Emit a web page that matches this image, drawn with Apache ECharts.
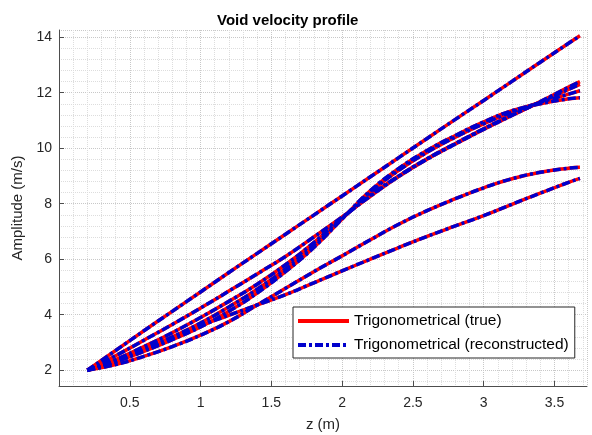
<!DOCTYPE html>
<html>
<head>
<meta charset="utf-8">
<script src="https://cdn.jsdelivr.net/npm/echarts@6/dist/echarts.min.js"></script>
<style>
  html, body { margin: 0; padding: 0; background: #fff; }
  #chart { width: 592px; height: 435px; }
</style>
</head>
<body>
<div id="chart"></div>
<script>
// z positions (m)
const zValues = [0.2, 0.4, 0.6, 0.8, 1.0, 1.2, 1.4, 1.6, 1.8, 2.0, 2.2, 2.4, 2.6, 2.8, 3.0, 3.2, 3.4, 3.6, 3.68];

// amplitude profiles (m/s)
const profileA = [2.00, 2.71, 3.42, 4.12, 4.82, 5.52, 6.21, 6.90, 7.59, 8.28, 8.97, 9.66, 10.35, 11.04, 11.72, 12.41, 13.10, 13.78, 14.05];
const profileB = [2.00, 2.52, 3.08, 3.65, 4.24, 4.85, 5.47, 6.10, 6.80, 7.52, 8.27, 8.98, 9.60, 10.15, 10.68, 11.18, 11.68, 12.20, 12.40];
const profileC = [2.00, 2.38, 2.85, 3.35, 3.90, 4.48, 5.10, 5.80, 6.60, 7.48, 8.30, 9.00, 9.62, 10.17, 10.70, 11.20, 11.66, 12.12, 12.30];
const profileD = [2.00, 2.33, 2.75, 3.20, 3.70, 4.28, 4.92, 5.65, 6.50, 7.46, 8.42, 9.20, 9.85, 10.40, 10.88, 11.30, 11.65, 11.95, 12.07];
const profileE = [2.00, 2.30, 2.68, 3.10, 3.56, 4.12, 4.78, 5.55, 6.42, 7.45, 8.47, 9.27, 9.92, 10.46, 10.95, 11.35, 11.60, 11.78, 11.82];
const profileF = [2.00, 2.20, 2.50, 2.85, 3.26, 3.75, 4.35, 4.95, 5.55, 6.12, 6.70, 7.26, 7.75, 8.18, 8.57, 8.90, 9.13, 9.28, 9.31];
const profileG = [2.00, 2.32, 2.72, 3.15, 3.60, 3.98, 4.35, 4.72, 5.15, 5.58, 6.00, 6.42, 6.82, 7.20, 7.57, 7.98, 8.38, 8.77, 8.91];

// the reconstruction sits on top of the true profile
const trueProfiles = [profileA, profileB, profileC, profileD, profileE, profileF, profileG];
const reconstructedProfiles = [profileA, profileB, profileC, profileD, profileE, profileF, profileG];

const trueName = 'Trigonometrical (true)';
const recName = 'Trigonometrical (reconstructed)';

const chart = echarts.init(document.getElementById('chart'));

const font = 'Liberation Sans, Arial, Helvetica, sans-serif';
const textColor = '#262626';

function toPairs(values) {
    return zValues.map((z, i) => [z, values[i]]);
}

const series = [];
trueProfiles.forEach(p => {
    series.push({
        name: trueName,
        type: 'line',
        data: toPairs(p),
        smooth: true,
        symbol: 'circle',
        showSymbol: false,
        lineStyle: { color: '#ff0000', width: 3.5 },
        itemStyle: { color: '#ff0000' },
        z: 2
    });
});
reconstructedProfiles.forEach(p => {
    series.push({
        name: recName,
        type: 'line',
        data: toPairs(p),
        smooth: true,
        symbol: 'circle',
        showSymbol: false,
        lineStyle: { color: '#0000cc', width: 3.5, type: [8, 3, 3, 3] },
        itemStyle: { color: '#0000cc' },
        z: 3
    });
});

const options = {
    animation: false,
    backgroundColor: '#ffffff',
    textStyle: { fontFamily: font },
    title: {
        text: 'Void velocity profile',
        left: 212,
        top: 8,
        textStyle: { fontSize: 15, fontWeight: 'bold', color: '#000', fontFamily: font }
    },
    grid: { left: 59, right: 5, top: 30, bottom: 49, outerBoundsMode: 'none' },
    legend: {
        data: [trueName, recName],
        orient: 'vertical',
        left: 293,
        top: 307,
        padding: [6, 6, 5, 3],
        itemGap: 8,
        itemWidth: 51,
        itemHeight: 14,
        borderColor: '#262626',
        borderWidth: 1,
        backgroundColor: '#ffffff',
        itemStyle: { opacity: 0 },
        lineStyle: { width: 4 },
        textStyle: { fontSize: 15.5, color: '#000', fontFamily: font }
    },
    xAxis: {
        type: 'value',
        min: 0,
        max: 3.73,
        interval: 0.5,
        name: 'z (m)',
        nameLocation: 'middle',
        nameGap: 31,
        nameTextStyle: { fontSize: 15, color: textColor },
        axisLine: { show: true, lineStyle: { color: '#4d4d4d' } },
        axisTick: { inside: true, length: 5, lineStyle: { color: '#4d4d4d' } },
        axisLabel: { fontSize: 14, color: textColor, margin: 10, showMinLabel: false, showMaxLabel: false },
        splitLine: { show: true, lineStyle: { color: '#c8c8c8', type: 'dotted' } },
        minorTick: { show: false, splitNumber: 5 },
        minorSplitLine: { show: true, lineStyle: { color: '#dddddd', type: 'dotted' } }
    },
    yAxis: {
        type: 'value',
        min: 1.43,
        max: 14.26,
        splitNumber: 6,
        name: 'Amplitude (m/s)',
        nameLocation: 'middle',
        nameGap: 23,
        nameTextStyle: { fontSize: 15, color: textColor },
        axisLine: { show: true, lineStyle: { color: '#4d4d4d' } },
        axisTick: { show: true, inside: true, length: 5, lineStyle: { color: '#4d4d4d' } },
        axisLabel: { fontSize: 14, color: textColor, margin: 7, showMinLabel: false, showMaxLabel: false },
        splitLine: { show: true, lineStyle: { color: '#c8c8c8', type: 'dotted' } },
        minorTick: { show: false, splitNumber: 5 },
        minorSplitLine: { show: true, lineStyle: { color: '#dddddd', type: 'dotted' } }
    },
    series: series
};

chart.setOption(options);

window.addEventListener('resize', () => {
    chart.resize();
});
</script>
</body>
</html>
